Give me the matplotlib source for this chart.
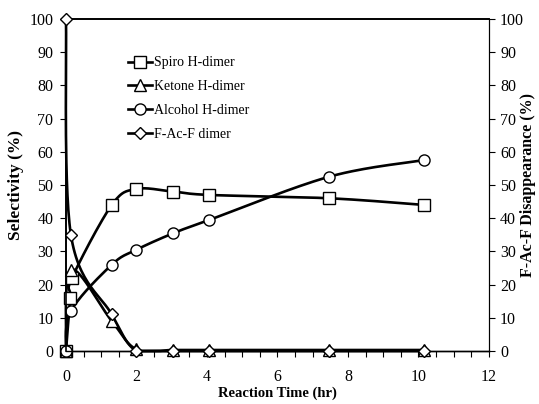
import numpy as np
import matplotlib.pyplot as plt
from matplotlib.lines import Line2D

plt.rcParams['font.family'] = ['Liberation Serif', 'DejaVu Serif']

# data
t = [0, 0.14, 1.3, 2.0, 3.05, 4.07, 7.47, 10.15]
t_spiro = [0, 0.12, 0.17, 1.3, 2.0, 3.05, 4.07, 7.47, 10.15]
spiro = [0, 16, 22, 44, 48.8, 48, 47, 46, 44]
ketone = [0, 24.5, 9, 0.5, 0.3, 0.3, 0.3, 0.3]
alcohol = [0, 12, 26, 30.5, 35.5, 39.5, 52.5, 57.5]
t_fac = [0, 0.14, 1.3, 2.0, 3.05, 4.07, 7.47, 10.15]
fac = [100, 35, 11, 0, 0, 0, 0, 0]


def smooth(x, y, n=30):
    # excel style smoothed line (bezier through the points)
    x = np.asarray(x, float)
    y = np.asarray(y, float)
    px, py = [], []
    m = len(x)
    for i in range(m - 1):
        i0 = max(i - 1, 0)
        i3 = min(i + 2, m - 1)
        c1x = x[i] + (x[i+1] - x[i0]) / 6
        c1y = y[i] + (y[i+1] - y[i0]) / 6
        c2x = x[i+1] - (x[i3] - x[i]) / 6
        c2y = y[i+1] - (y[i3] - y[i]) / 6
        s = np.linspace(0, 1, n)
        bx = (1-s)**3*x[i] + 3*(1-s)**2*s*c1x + 3*(1-s)*s**2*c2x + s**3*x[i+1]
        by = (1-s)**3*y[i] + 3*(1-s)**2*s*c1y + 3*(1-s)*s**2*c2y + s**3*y[i+1]
        px.extend(bx)
        py.extend(by)
    return px, np.maximum(py, 0)


fig = plt.figure(figsize=(5.39, 4.04), dpi=100)
ax = fig.add_axes([0.1224, 0.1312, 0.7848, 0.8218])
ax2 = ax.twinx()

lw = 1.9
mk = dict(markerfacecolor='white', markeredgecolor='black', markeredgewidth=1.0, linestyle='none')

for xx, yy, m, ms in [(t_spiro, spiro, 's', 8), (t, ketone, '^', 8), (t, alcohol, 'o', 8)]:
    sx, sy = smooth(xx, yy)
    ax.plot(sx, sy, color='black', lw=lw, zorder=2, clip_on=False)
    ax.plot(xx, yy, marker=m, markersize=ms, zorder=3, clip_on=False, **mk)

sx, sy = smooth(t_fac, fac)
ax2.plot(sx, sy, color='black', lw=lw, zorder=2, clip_on=False)
ax2.plot(t_fac, fac, marker='D', markersize=6, zorder=3, clip_on=False, **mk)

for a in (ax, ax2):
    a.set_xlim(0, 12)
    a.set_ylim(0, 100)
    a.set_yticks(range(0, 101, 10))
    a.tick_params(labelsize=11.5, length=4, width=0.8)

ax.set_xticks(range(0, 13, 2))
ax.set_xticks(np.arange(0, 12.01, 0.5), minor=True)
ax.tick_params(axis='x', which='both', length=4, width=0.8, pad=9)
ax.tick_params(axis='y', pad=5)
ax2.tick_params(axis='y', pad=4)

for a in (ax, ax2):
    a.spines['top'].set_linewidth(1.2)
    a.spines['bottom'].set_linewidth(1.0)
    a.spines['left'].set_linewidth(1.2)
    a.spines['right'].set_linewidth(0.8)

ax.set_xlabel('Reaction Time (hr)', fontsize=10.5, fontweight='bold', labelpad=1)
ax.set_ylabel('Selectivity (%)', fontsize=12.5, fontweight='bold', labelpad=4)
ax2.set_ylabel('F-Ac-F Disappearance (%)', fontsize=11.5, fontweight='bold')
ax2.yaxis.set_label_coords(1.074, 0.5)

handles = [Line2D([], [], color='black', lw=lw, marker=m, markersize=ms,
                  markerfacecolor='white', markeredgecolor='black', markeredgewidth=1.0)
           for m, ms in [('s', 8), ('^', 8), ('o', 8), ('D', 6)]]
labels = ['Spiro H-dimer', 'Ketone H-dimer', 'Alcohol H-dimer', 'F-Ac-F dimer']
ax2.legend(handles, labels, loc='upper left', bbox_to_anchor=(0.117, 0.925), frameon=False,
           fontsize=10, handlelength=1.7, handletextpad=0.2, labelspacing=0.78)

fig.savefig('out.png', dpi=100)
